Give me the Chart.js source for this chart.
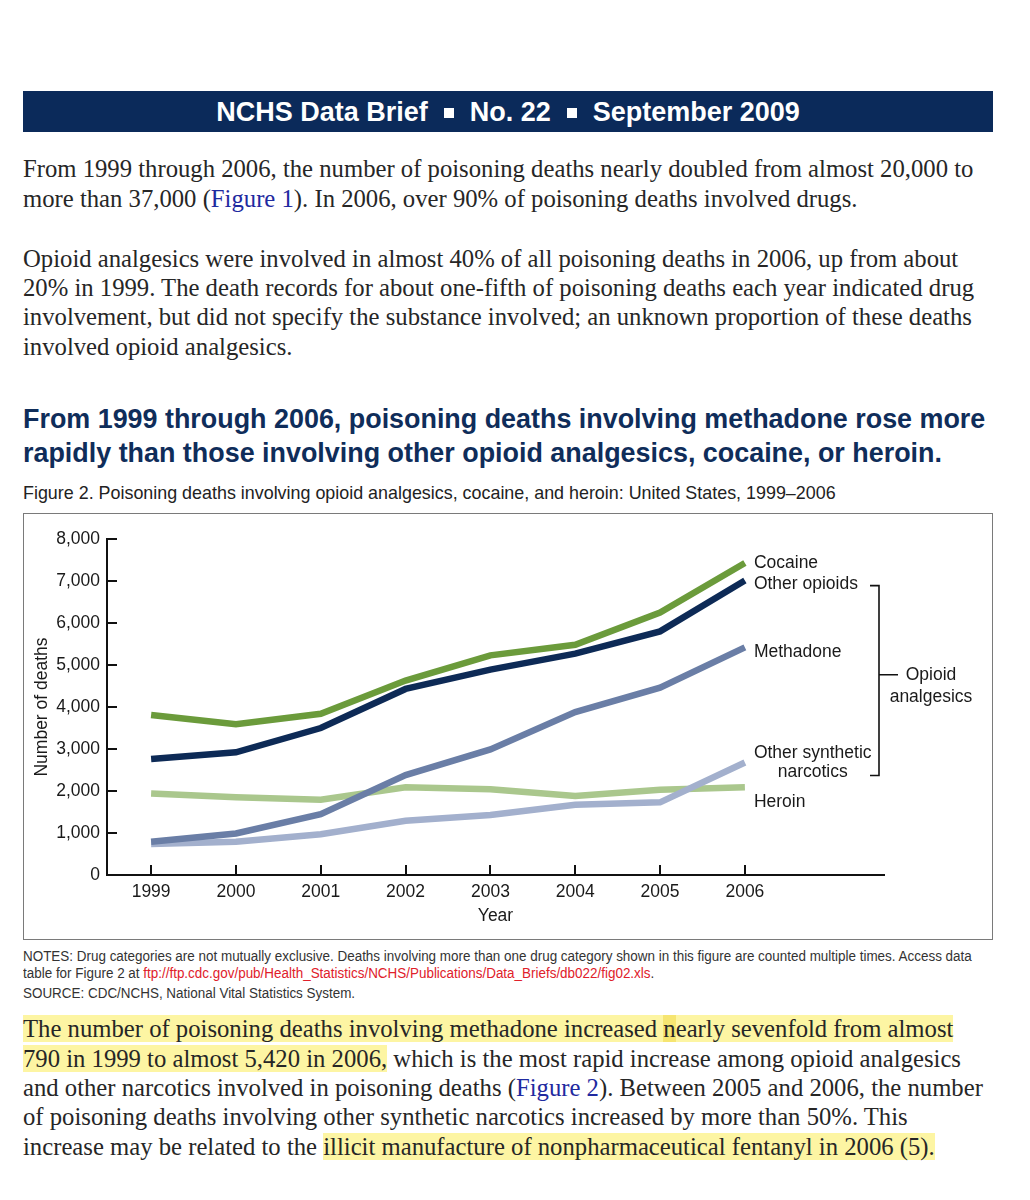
<!DOCTYPE html>
<html>
<head>
<meta charset="utf-8">
<script src="https://cdn.jsdelivr.net/npm/chart.js@4.4.1/dist/chart.umd.min.js"></script>
<style>
  html,body{margin:0;padding:0;background:#fff;}
  body{width:1030px;height:1200px;position:relative;overflow:hidden;}
  .ln{position:absolute;left:23px;white-space:nowrap;}
  .serif{font-family:"Liberation Serif","Times New Roman",serif;font-size:24.7px;color:#262626;line-height:30px;height:30px;}
  .link{color:#1f2aa0;}
  .hl{background:#fdf5a3;}
  .hl2{background:#f6e571;}
  #hdr{position:absolute;left:23px;top:91px;width:970px;height:41px;background:#0b2a5a;color:#fff;
       font-family:"Liberation Sans",Arial,sans-serif;font-weight:bold;font-size:27px;line-height:43px;text-align:center;}
  .sq{display:inline-block;width:10px;height:10px;background:#fff;vertical-align:middle;margin:0 16px;position:relative;top:-1px;}
  .title{font-family:"Liberation Sans",Arial,sans-serif;font-weight:bold;font-size:26.9px;color:#0f2d5a;line-height:34px;height:34px;}
  .cap{font-family:"Liberation Sans",Arial,sans-serif;font-size:17.9px;color:#222;line-height:20px;height:20px;}
  .note{font-family:"Liberation Sans",Arial,sans-serif;font-size:14px;color:#333;line-height:17px;height:17px;transform:scaleX(0.96);transform-origin:0 0;}
  .red{color:#e0202a;}
  #box{position:absolute;left:23px;top:513px;width:970px;height:427px;box-sizing:border-box;border:1px solid #7a7a7a;}
  #c{position:absolute;left:23px;top:513px;}
</style>
</head>
<body>
<div id="hdr">NCHS Data Brief<span class="sq"></span>No. 22<span class="sq"></span>September 2009</div>

<div class="ln serif" style="top:154px">From 1999 through 2006, the number of poisoning deaths nearly doubled from almost 20,000 to</div>
<div class="ln serif" style="top:184px">more than 37,000 (<span class="link">Figure 1</span>). In 2006, over 90% of poisoning deaths involved drugs.</div>

<div class="ln serif" style="top:244px">Opioid analgesics were involved in almost 40% of all poisoning deaths in 2006, up from about</div>
<div class="ln serif" style="top:273px">20% in 1999. The death records for about one-fifth of poisoning deaths each year indicated drug</div>
<div class="ln serif" style="top:302px">involvement, but did not specify the substance involved; an unknown proportion of these deaths</div>
<div class="ln serif" style="top:332px">involved opioid analgesics.</div>

<div class="ln title" style="top:402px">From 1999 through 2006, poisoning deaths involving methadone rose more</div>
<div class="ln title" style="top:436px">rapidly than those involving other opioid analgesics, cocaine, or heroin.</div>

<div class="ln cap" style="top:483px">Figure 2. Poisoning deaths involving opioid analgesics, cocaine, and heroin: United States, 1999–2006</div>

<div id="box"></div>
<canvas id="c" width="970" height="427"></canvas>

<div class="ln note" style="top:948px">NOTES: Drug categories are not mutually exclusive. Deaths involving more than one drug category shown in this figure are counted multiple times. Access data</div>
<div class="ln note" style="top:965px">table for Figure 2 at <span class="red">ftp://ftp.cdc.gov/pub/Health_Statistics/NCHS/Publications/Data_Briefs/db022/fig02.xls</span>.</div>
<div class="ln note" style="top:985px">SOURCE: CDC/NCHS, National Vital Statistics System.</div>

<div class="ln serif" style="top:1014px"><span class="hl">The number of poisoning deaths involving methadone increased <span class="hl2">n</span>early sevenfold from almost </span></div>
<div class="ln serif" style="top:1044px"><span class="hl">790 in 1999 to almost 5,420 in 2006,</span> which is the most rapid increase among opioid analgesics</div>
<div class="ln serif" style="top:1073px">and other narcotics involved in poisoning deaths (<span class="link">Figure 2</span>). Between 2005 and 2006, the number</div>
<div class="ln serif" style="top:1102px">of poisoning deaths involving other synthetic narcotics increased by more than 50%. This</div>
<div class="ln serif" style="top:1132px">increase may be related to the <span class="hl">illicit manufacture of nonpharmaceutical fentanyl in 2006 (5).</span></div>

<script>
// ---- data ----
const years = [1999, 2000, 2001, 2002, 2003, 2004, 2005, 2006];
const cocaine        = [3810, 3590, 3840, 4630, 5230, 5480, 6250, 7430];
const otherOpioids   = [2760, 2920, 3500, 4430, 4890, 5270, 5800, 7010];
const methadone      = [790, 990, 1450, 2380, 2990, 3880, 4460, 5420];
const heroin         = [1940, 1850, 1790, 2090, 2040, 1880, 2030, 2090];
const otherSynthetic = [740, 790, 970, 1290, 1430, 1670, 1730, 2680];
const yTickValues = [0, 1000, 2000, 3000, 4000, 5000, 6000, 7000, 8000];
const seriesNames = ["Cocaine", "Other opioids", "Methadone", "Heroin", "Other synthetic narcotics"];

const FONT = '"Liberation Sans", Arial, sans-serif';
const pts = arr => years.map((yr, i) => ({x: yr, y: arr[i]}));

const decor = {
  id: 'decor',
  afterDraw(chart) {
    const {ctx, scales: {x, y}} = chart;
    ctx.save();
    ctx.strokeStyle = '#111';
    ctx.lineWidth = 2;
    ctx.beginPath();
    x.ticks.forEach(t => {
      const px = Math.round(x.getPixelForValue(t.value));
      ctx.moveTo(px, y.bottom); ctx.lineTo(px, y.bottom - 10);
    });
    y.ticks.forEach(t => {
      const py = Math.round(y.getPixelForValue(t.value));
      ctx.moveTo(x.left, py); ctx.lineTo(x.left + 10, py);
    });
    ctx.stroke();

    // series labels
    const last = years.length - 1;
    const lx = x.getPixelForValue(years[last]) + 9;
    ctx.fillStyle = '#1a1a1a';
    ctx.font = '17.5px ' + FONT;
    ctx.textBaseline = 'middle';
    ctx.textAlign = 'left';
    const yc = y.getPixelForValue(cocaine[last]);
    const yo = y.getPixelForValue(otherOpioids[last]) + 4;
    const ym = y.getPixelForValue(methadone[last]) + 5;
    const ys = y.getPixelForValue(otherSynthetic[last]);
    const yh = y.getPixelForValue(heroin[last]) + 15;
    ctx.fillText('Cocaine', lx, yc);
    ctx.fillText('Other opioids', lx, yo);
    ctx.fillText('Methadone', lx, ym);
    ctx.fillText('Other synthetic', lx, ys - 9);
    const wOS = ctx.measureText('Other synthetic').width;
    ctx.textAlign = 'center';
    ctx.fillText('narcotics', lx + wOS / 2, ys + 10);
    ctx.textAlign = 'left';
    ctx.fillText('Heroin', lx, yh);

    // bracket
    const bx = x.right - 5;
    const top = yo + 1, bot = ys + 13;
    const mid = top + (bot - top) * 0.47;
    ctx.strokeStyle = '#111';
    ctx.lineWidth = 1.6;
    ctx.beginPath();
    ctx.moveTo(bx - 9, top); ctx.lineTo(bx, top); ctx.lineTo(bx, bot); ctx.lineTo(bx - 9, bot);
    ctx.moveTo(bx, mid); ctx.lineTo(bx + 19, mid);
    ctx.stroke();
    ctx.textAlign = 'center';
    ctx.fillText('Opioid', bx + 52, mid);
    ctx.fillText('analgesics', bx + 52, mid + 22);
    ctx.restore();
  }
};

const mk = (label, data, color, order) => ({
  label, data: pts(data), borderColor: color, backgroundColor: color,
  borderWidth: 6.5, pointRadius: 0, tension: 0, order, borderJoinStyle: 'miter', borderCapStyle: 'butt'
});

new Chart(document.getElementById('c'), {
  type: 'line',
  data: {
    datasets: [
      mk(seriesNames[0], cocaine, '#6b9b3b', 1),
      mk(seriesNames[1], otherOpioids, '#0d2a56', 2),
      mk(seriesNames[2], methadone, '#6a7ea6', 3),
      mk(seriesNames[4], otherSynthetic, '#a3b0cd', 4),
      mk(seriesNames[3], heroin, '#aac78d', 5)
    ]
  },
  options: {
    responsive: false,
    animation: false,
    devicePixelRatio: 1,
    layout: {padding: {top: 26, right: 109, left: 0, bottom: 0}},
    plugins: {legend: {display: false}, tooltip: {enabled: false}},
    scales: {
      x: {
        type: 'linear', min: 1998.48, max: 2007.64,
        afterBuildTicks: s => { s.ticks = years.map(v => ({value: v})); },
        afterFit: s => { s.height = 65; },
        grid: {display: false, drawTicks: false},
        border: {display: true, color: '#111', width: 2},
        ticks: {color: '#1a1a1a', font: {family: FONT, size: 17.5}, padding: 7, callback: v => String(v), maxRotation: 0, autoSkip: false},
        title: {display: true, text: 'Year', color: '#1a1a1a', font: {family: FONT, size: 17.5}, padding: {top: 0, bottom: 13}}
      },
      y: {
        type: 'linear', min: 0, max: 8000,
        afterBuildTicks: s => { s.ticks = yTickValues.map(v => ({value: v})); },
        afterFit: s => { s.width = 84; },
        grid: {display: false, drawTicks: false},
        border: {display: true, color: '#111', width: 2},
        ticks: {color: '#1a1a1a', font: {family: FONT, size: 17.5}, padding: 7, callback: v => v.toLocaleString('en-US')},
        title: {display: true, text: 'Number of deaths', color: '#1a1a1a', font: {family: FONT, size: 17.5}, padding: {top: 9, bottom: 0}}
      }
    }
  },
  plugins: [decor]
});
</script>
</body>
</html>
